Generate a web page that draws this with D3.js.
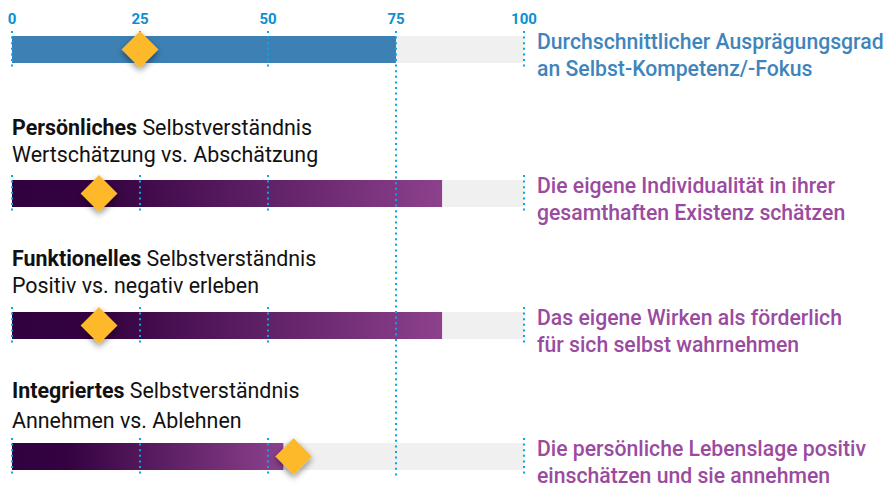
<!DOCTYPE html>
<html>
<head>
<meta charset="utf-8">
<script src="https://cdn.jsdelivr.net/npm/d3@7"></script>
<style>
  body { margin: 0; background: #fff; }
  svg { font-family: Roboto, "Noto Sans", sans-serif; }
</style>
</head>
<body>
<div class="chart"></div>
<script>
// data
const ticks = [0, 25, 50, 75, 100];
const barValues = [75, 84, 84, 53];
const markerValues = [25, 17, 17, 55];
const headBold = [null, "Persönliches", "Funktionelles", "Integriertes"];
const headRest = [null, " Selbstverständnis", " Selbstverständnis", " Selbstverständnis"];
const subTitles = [null, "Wertschätzung vs. Abschätzung", "Positiv vs. negativ erleben", "Annehmen vs. Ablehnen"];
const rightLines = [
  ["Durchschnittlicher Ausprägungsgrad", "an Selbst-Kompetenz/-Fokus"],
  ["Die eigene Individualität in ihrer", "gesamthaften Existenz schätzen"],
  ["Das eigene Wirken als förderlich", "für sich selbst wahrnehmen"],
  ["Die persönliche Lebenslage positiv", "einschätzen und sie annehmen"]
];

// layout
const barTop = [36, 180, 312, 443];
const barH = 27;
const headY = [null, [135, 162], [266, 293], [398, 428]];
const tickBlue = "#07a7e6";

const x = d3.scaleLinear().domain([0, 100]).range([12, 524]);

const svg = d3.select('.chart')
              .append('svg')
              .attr('width', 887)
              .attr('height', 487);

const defs = svg.append('defs');
const grad = defs.append('linearGradient').attr('id', 'purple');
grad.append('stop').attr('offset', '0').attr('stop-color', '#31003e');
grad.append('stop').attr('offset', '0.2').attr('stop-color', '#340240');
grad.append('stop').attr('offset', '1').attr('stop-color', '#8d418d');

const shadow = defs.append('filter').attr('id', 'shadow')
  .attr('x', '-50%').attr('y', '-50%').attr('width', '200%').attr('height', '200%');
shadow.append('feDropShadow').attr('dx', 2).attr('dy', 2)
  .attr('stdDeviation', 3).attr('flood-color', '#000').attr('flood-opacity', 0.45);

// tick labels
svg.append('g').selectAll('text')
  .data(ticks)
  .join('text')
    .attr('x', d => x(d))
    .attr('y', 24)
    .attr('text-anchor', 'middle')
    .attr('font-size', 15)
    .attr('font-weight', 700)
    .attr('fill', '#0b8fd2')
    .text(d => d);

const rows = svg.append('g').selectAll('g')
  .data(barValues.map((v, i) => ({i, v, m: markerValues[i]})))
  .join('g');

// gray track
rows.append('rect')
  .attr('x', x(0))
  .attr('y', d => barTop[d.i])
  .attr('width', x(100) - x(0))
  .attr('height', barH)
  .attr('fill', '#f0f0f0');

// value bar
rows.append('rect')
  .attr('x', x(0))
  .attr('y', d => barTop[d.i])
  .attr('width', d => x(d.v) - x(0))
  .attr('height', barH)
  .attr('fill', d => d.i === 0 ? '#3d80b4' : 'url(#purple)');

// short dotted ticks
rows.each(function(d) {
  d3.select(this).selectAll('line.tick')
    .data(ticks.filter(t => t !== 75))
    .join('line')
      .attr('class', 'tick')
      .attr('x1', t => x(t)).attr('x2', t => x(t))
      .attr('y1', barTop[d.i] - 5)
      .attr('y2', barTop[d.i] + barH + 4)
      .attr('stroke', tickBlue)
      .attr('stroke-width', 2)
      .attr('stroke-dasharray', '2 3.6');
});

// long 75 line
svg.append('line')
  .attr('x1', x(75)).attr('x2', x(75))
  .attr('y1', 31).attr('y2', 477)
  .attr('stroke', tickBlue)
  .attr('stroke-width', 2)
  .attr('stroke-dasharray', '2 3.6');

// diamonds
rows.append('rect')
  .attr('x', -13).attr('y', -13)
  .attr('width', 26).attr('height', 26)
  .attr('fill', '#fdb92a')
  .attr('filter', 'url(#shadow)')
  .attr('transform', d => `translate(${x(d.m)},${barTop[d.i] + barH / 2}) rotate(45)`);

// left headings
const heads = rows.filter(d => d.i > 0);
const h1 = heads.append('text')
  .attr('x', 12)
  .attr('y', d => headY[d.i][0])
  .attr('font-size', 21.4)
  .attr('fill', '#111');
h1.append('tspan').attr('font-weight', 700).text(d => headBold[d.i]);
h1.append('tspan').text(d => headRest[d.i]);
heads.append('text')
  .attr('x', 12)
  .attr('y', d => headY[d.i][1])
  .attr('font-size', 21.4)
  .attr('fill', '#111')
  .text(d => subTitles[d.i]);

// right descriptions
rows.append('text')
  .attr('x', 537)
  .attr('y', d => barTop[d.i] + 13)
  .attr('font-size', 21.2)
  .attr('font-weight', 500)
  .attr('fill', d => d.i === 0 ? '#3f85bd' : '#9a4b9f')
  .selectAll('tspan')
  .data(d => rightLines[d.i])
  .join('tspan')
    .attr('x', 537)
    .attr('dy', (t, k) => k === 0 ? 0 : 27)
    .text(t => t);
</script>
</body>
</html>
